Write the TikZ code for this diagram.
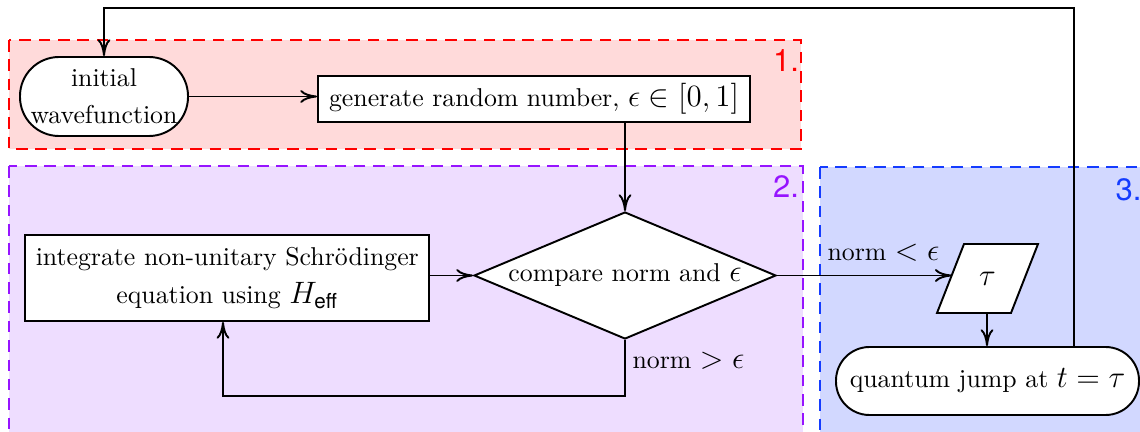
\documentclass[tikz,border=0pt]{standalone}
\usepackage{fontspec}
\usepackage{amsmath}
\newfontfamily\heros{TeX Gyre Heros}
\usetikzlibrary{shapes.geometric,arrows.meta}
\definecolor{regred}{RGB}{255,0,0}
\definecolor{fillred}{RGB}{255,218,218}
\definecolor{regviolet}{RGB}{150,20,255}
\definecolor{fillviolet}{RGB}{238,221,255}
\definecolor{regblue}{RGB}{20,60,255}
\definecolor{fillblue}{RGB}{210,216,255}
\def\myu{0.3876pt}
\newcommand\mth[1]{{\large$#1$}}
\begin{document}
\begin{tikzpicture}[x=0.3876pt,y=-0.3876pt,
  region/.style={line width=0.8pt, dash pattern=on 4.5pt off 3pt},
  reglabel/.style={font=\heros\large, inner sep=0pt},
  box/.style={draw, fill=white, line width=0.75pt, inner sep=0pt, align=center},
  arr/.style={line width=0.75pt, -{To[length=6.5pt,width=5pt]}},
  lbl/.style={inner sep=0pt}]
\useasboundingbox (0,0) rectangle (1140,432);
% regions
\path[region, draw=regred, fill=fillred] (9,40) rectangle (801,149);
\path[region, draw=regviolet, fill=fillviolet] (9,166) rectangle (803,450);
\path[region, draw=regblue, fill=fillblue] (820,167) rectangle (1160,450);
\node[reglabel, text=regred] (l1) at (786,61) {1.};
\node[reglabel, text=regviolet] (l2) at (786,187) {2.};
\node[reglabel, text=regblue] (l3) at (1128.5,190) {3.};
% nodes
\node[box, rounded corners=39*\myu, minimum width=168*\myu, minimum height=79*\myu] (init) at (104,96.5) {initial\\[2.3pt]wavefunction};
\node[box, minimum width=432*\myu, minimum height=46*\myu] (gen) at (534,99) {generate random number, \mth{\epsilon\in[0,1]}};
\node[box, diamond, aspect=2.378, minimum width=302*\myu, minimum height=127*\myu] (dia) at (625,275.5) {compare norm and \mth{\epsilon}};
\node[box, minimum width=404*\myu, minimum height=86*\myu] (int) at (227.3,278) {integrate non-unitary Schrödinger\\[3pt]equation using \mth{H_{\text{\heros eff}}}};
% parallelogram tau
\draw[box] (937,313) -- (964,244) -- (1038,244) -- (1011,313) -- cycle;
\node[lbl] (tau) at (987.5,278.5) {\mth{\tau}};
\coordinate (tauw) at (951.7,275.5);
\coordinate (taus) at (987,313);
\node[box, rounded corners=33.5*\myu, minimum width=303*\myu, minimum height=68*\myu] (qj) at (987.5,381) {quantum jump at \mth{t=\tau}};
% labels
\node[lbl, anchor=base west] (lgt) at (632,368) {norm \mth{>\epsilon}};
\node[lbl, anchor=base west] (llt) at (827,260) {norm \mth{<\epsilon}};
% coordinates
\coordinate (top) at (1074,8);
\coordinate (lp) at (223,396);
% connectors
\draw[arr] (init.east) -- (init.east -| gen.west);
\draw[arr] (gen.south -| dia.north) -- (dia.north);
\draw[arr] (int.east |- dia.west) -- (dia.west);
\draw[arr] (dia.south) -- (dia.south |- lp) -- (lp) -- (lp |- int.south);
\draw[arr] (dia.east) -- (tauw);
\draw[arr] (taus) -- (taus |- qj.north);
\draw[arr] (qj.north -| top) -- (top) -- (init.north |- top) -- (init.north);
\end{tikzpicture}
\end{document}
